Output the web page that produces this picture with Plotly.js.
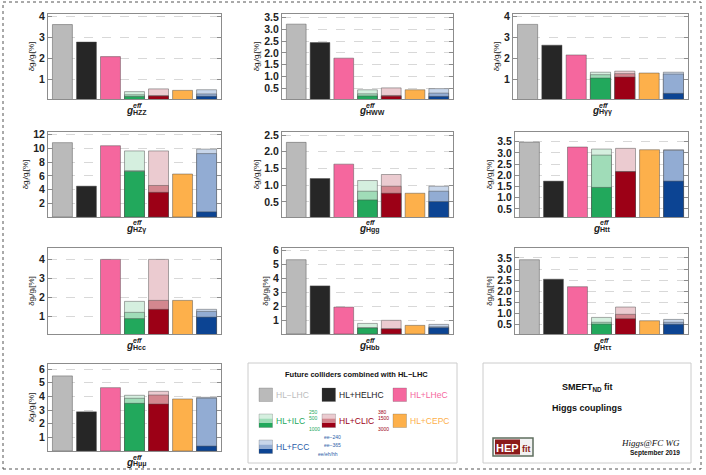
<!DOCTYPE html>
<html><head><meta charset="utf-8">
<script src="https://cdn.plot.ly/plotly-3.0.1.min.js"></script>
<style>html,body{margin:0;padding:0;background:#fff}#chart{width:706px;height:475px}</style>
</head><body><div id="chart"></div>
<script>
// ---------- data ----------
const couplings = ['HZZ','HWW','Hγγ','HZγ','Hgg','Htt','Hcc','Hbb','Hττ','Hμμ'];
const colliders = ['HL−LHC','HL+HELHC','HL+LHeC','HL+ILC','HL+CLIC','HL+CEPC','HL+FCC'];
const hlLHC    = [3.60, 3.22, 3.63, 10.85, 2.28, 3.48, null, 5.33, 3.42, 5.50];
const hlHELHC  = [2.77, 2.44, 2.63, 4.50, 1.20, 1.74, null, 3.45, 2.54, 2.87];
const hlLHeC   = [2.08, 1.78, 2.16, 10.40, 1.63, 3.26, 4.00, 1.93, 2.20, 4.64];
const ilc250   = [0.42, 0.44, 1.33, 9.64, 1.14, 3.17, 1.79, 0.76, 0.81, 4.08];
const ilc500   = [0.27, 0.27, 1.21, 6.75, 0.82, 2.90, 1.21, 0.45, 0.59, 3.86];
const ilc1000  = [0.19, 0.18, 1.05, 6.65, 0.56, 1.46, 0.88, 0.43, 0.51, 3.49];
const clic380  = [0.55, 0.52, 1.38, 9.64, 1.32, 3.20, 4.00, 0.98, 1.28, 4.37];
const clic1500 = [0.23, 0.20, 1.26, 4.60, 0.97, 2.17, 1.84, 0.38, 0.95, 4.10];
const clic3000 = [0.21, 0.17, 1.10, 3.60, 0.76, 2.16, 1.37, 0.36, 0.75, 3.44];
const cepc     = [0.48, 0.44, 1.29, 6.27, 0.76, 3.14, 1.84, 0.62, 0.66, 3.81];
const fcc240   = [0.51, 0.49, 1.33, 9.90, 0.97, 3.14, 1.37, 0.69, 0.72, 3.93];
const fcc365   = [0.31, 0.30, 1.24, 9.25, 0.82, 3.11, 1.26, 0.52, 0.59, 3.86];
const fccAll   = [0.20, 0.16, 0.31, 0.75, 0.51, 1.74, 0.96, 0.45, 0.50, 0.36];
const yTickVals = [
  [1,2,3,4],[0.5,1,1.5,2,2.5,3,3.5],[1,2,3,4],[2,4,6,8,10,12],[0.5,1,1.5,2,2.5],
  [0.5,1,1.5,2,2.5,3,3.5],[1,2,3,4],[1,2,3,4,5,6],[0.5,1,1.5,2,2.5,3,3.5],[1,2,3,4,5,6]];
const yRanges = [[0.07,4.1],[0.05,3.65],[0.04,4.13],[0,12.4],[0.05,2.59],[0.14,3.93],[0.07,4.6],[0,6.17],[0.06,3.95],[0,6.37]];

// ---------- styles / layout ----------
const W=706, H=475;
const PX = x => x/W, PY = y => 1-y/H;
const panelBox = [[48,221,14,99],[282,453,14,99],[513,688,14,99],[48,221,132,217],[282,453,132,217],[515,688,132,217],[48,221,248,334],[282,453,248,334],[515,688,248,334],[48,221,364,451]];
const C = {gray:'#bababa', black:'#262626', pink:'#f5679e',
  ilcL:'#d5efdf', ilcM:'#a0dcb8', ilcD:'#22a85c',
  clicL:'#ebcbd0', clicM:'#d3878f', clicD:'#9c0016',
  cepc:'#fdb04b', fccL:'#c8d6ea', fccM:'#92acd3', fccD:'#0c4493'};
const lineSt = {color:'rgba(70,70,70,0.45)', width:1};
const tickFont = {family:'Liberation Sans, Arial, sans-serif', size:10.5, weight:'bold', color:'#222'};

const data=[], layout={width:W,height:H,margin:{l:0,r:0,t:0,b:0},showlegend:false,
  barmode:'overlay', bargap:0.17, paper_bgcolor:'#fff', plot_bgcolor:'#fff',
  font:{family:'Liberation Sans, Arial, sans-serif'}, shapes:[], annotations:[]};

couplings.forEach((c,i)=>{
  const n=i+1, xa='x'+(n>1?n:''), ya='y'+(n>1?n:'');
  const light=[hlLHC[i],hlHELHC[i],hlLHeC[i],ilc250[i],clic380[i],cepc[i],fcc240[i]];
  data.push({type:'bar', x:[0,1,2,3,4,5,6], y:light, xaxis:xa, yaxis:ya, width:0.83,
    marker:{color:[C.gray,C.black,C.pink,C.ilcL,C.clicL,C.cepc,C.fccL], line:lineSt}, hoverinfo:'y'});
  data.push({type:'bar', x:[3,4,6], y:[ilc500[i],clic1500[i],fcc365[i]], xaxis:xa, yaxis:ya, width:0.83,
    marker:{color:[C.ilcM,C.clicM,C.fccM], line:lineSt}, hoverinfo:'y'});
  data.push({type:'bar', x:[3,4,6], y:[ilc1000[i],clic3000[i],fccAll[i]], xaxis:xa, yaxis:ya, width:0.83,
    marker:{color:[C.ilcD,C.clicD,C.fccD], line:lineSt}, hoverinfo:'y'});
  const b=panelBox[i];
  const dec = yTickVals[i].some(v=>v%1!==0);
  layout['xaxis'+(n>1?n:'')] = {domain:[PX(b[0]),PX(b[1])], anchor:ya, range:[-0.6,6.6],
    showticklabels:false, showgrid:false, zeroline:false, showline:true, mirror:true,
    linecolor:'#8c8c8c', linewidth:1, ticks:'', fixedrange:true};
  layout['yaxis'+(n>1?n:'')] = {domain:[PY(b[3]),PY(b[2])], anchor:xa, range:yRanges[i],
    tickmode:'array', tickvals:yTickVals[i], ticktext:yTickVals[i].map(v=>dec?v.toFixed(1):String(v)),
    showline:true, mirror:'ticks', linecolor:'#8c8c8c', linewidth:1, ticks:'inside', ticklen:4, tickcolor:'#8c8c8c',
    showgrid:true, gridcolor:'#d8d8d8', griddash:'dash', zeroline:false, tickfont:tickFont,
    title:{text:'δg<sub>i</sub>/g<sub>i</sub>[%]', font:{size:8,color:'#222'}, standoff:3}, fixedrange:true};
  // x label g^eff_sub
  const cx=(b[0]+b[1])/2, yb=b[3];
  layout.annotations.push({xref:'paper',yref:'paper',x:PX(cx-1),y:PY(yb+11),xanchor:'right',yanchor:'middle',
    text:'<b><i>g</i></b>',showarrow:false,borderpad:0,font:{size:10,color:'#222',family:'Liberation Sans, Arial'}});
  layout.annotations.push({xref:'paper',yref:'paper',x:PX(cx-3),y:PY(yb+6),xanchor:'left',yanchor:'middle',
    text:'<b><i>eff</i></b>',showarrow:false,borderpad:0,font:{size:7,color:'#222'}});
  layout.annotations.push({xref:'paper',yref:'paper',x:PX(cx-3),y:PY(yb+13),xanchor:'left',yanchor:'middle',
    text:'<b>'+c+'</b>',showarrow:false,borderpad:0,font:{size:7,color:'#222'}});
});

// outer dotted frame
layout.shapes.push({type:'rect',xref:'paper',yref:'paper',x0:PX(3),x1:PX(701),y0:PY(469),y1:PY(2),
  line:{color:'#555',width:1,dash:'dot'}});
// legend box
layout.shapes.push({type:'rect',xref:'paper',yref:'paper',x0:PX(248),x1:PX(457),y0:PY(463),y1:PY(363),
  line:{color:'#ccc',width:1}});
// right box
layout.shapes.push({type:'rect',xref:'paper',yref:'paper',x0:PX(483),x1:PX(691),y0:PY(463),y1:PY(363),
  line:{color:'#ccc',width:1}});

function sq(x0,y0,cols){ // square with bands
  const h=13.5/cols.length;
  cols.forEach((col,k)=>layout.shapes.push({type:'rect',xref:'paper',yref:'paper',
    x0:PX(x0),x1:PX(x0+13.5),y1:PY(y0+k*h),y0:PY(y0+(k+1)*h),fillcolor:col,line:{width:0}}));
  layout.shapes.push({type:'rect',xref:'paper',yref:'paper',x0:PX(x0),x1:PX(x0+13.5),y1:PY(y0),y0:PY(y0+13.5),
    line:{color:'rgba(80,80,80,0.25)',width:1}});
}
function txt(x,y,t,col,size,anchor,extra){
  layout.annotations.push(Object.assign({xref:'paper',yref:'paper',x:PX(x),y:PY(y),xanchor:anchor||'left',
    yanchor:'middle',text:t,showarrow:false,font:{size:size,color:col}},extra||{}));
}
txt(356,374,'<b>Future colliders combined with HL−LHC</b>','#111',7.5,'center');
sq(259,388,[C.gray]); txt(274,395,colliders[0],'#bbb',8.5);
sq(322,388,[C.black]); txt(337,395,colliders[1],'#222',8.5);
sq(393,388,[C.pink]); txt(408,395,colliders[2],C.pink,8.5);
sq(259,414,[C.ilcL,C.ilcM,C.ilcD]); txt(274,421,colliders[3],C.ilcD,8.5);
txt(307,412,'250',C.ilcD,5); txt(307,418,'500',C.ilcD,5); txt(307,429,'1000',C.ilcD,5);
sq(322,414,[C.clicL,C.clicM,C.clicD]); txt(337,421,colliders[4],C.clicD,8.5);
txt(376,412,'380',C.clicD,5); txt(376,418,'1500',C.clicD,5); txt(376,429,'3000',C.clicD,5);
sq(393,414,[C.cepc]); txt(408,421,colliders[5],C.cepc,8.5);
sq(259,440,[C.fccL,C.fccM,C.fccD]); txt(274,447,colliders[6],'#2a5ca8',8.5);
txt(322,437,'ee−240','#2a5ca8',5); txt(322,445,'ee−365','#2a5ca8',5); txt(316,454,'ee/eh/hh','#2a5ca8',5);

// right text box
txt(587,387,'<b>SMEFT<sub>ND</sub> fit</b>','#111',9,'center');
txt(587,408,'<b>Higgs couplings</b>','#111',9,'center');
txt(682,443,'<i>Higgs@FC WG</i>','#111',9,'right',{font:{size:9,color:'#111',family:'Liberation Serif, serif'}});
txt(682,453,'<b>September 2019</b>','#111',6.5,'right');
// HEPfit logo
layout.shapes.push({type:'rect',xref:'paper',yref:'paper',x0:PX(493),x1:PX(533),y0:PY(456),y1:PY(438),
  fillcolor:'#f2f2f2',line:{color:'#5f6f5f',width:1.5}});
layout.shapes.push({type:'rect',xref:'paper',yref:'paper',x0:PX(495),x1:PX(520),y0:PY(454.5),y1:PY(439.5),
  fillcolor:'#8b1a1a',line:{width:0}});
txt(507.5,447.5,'<b>HEP</b>','#fff',11,'center');
txt(526.5,449,'<b>fit</b>','#8b1a1a',9,'center');

Plotly.newPlot('chart',data,layout,{staticPlot:true,displayModeBar:false});
</script></body></html>
